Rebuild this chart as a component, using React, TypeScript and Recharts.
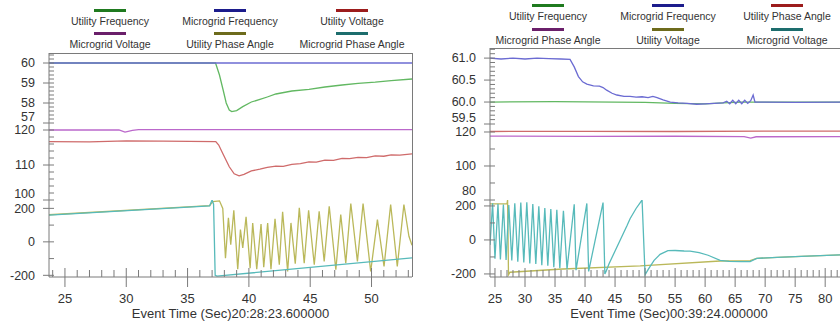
import { LineChart, Line, XAxis, YAxis } from 'recharts'

type Row = [number, number]
const toPts = (rows: Row[]) => rows.map(([t, v]) => ({ t, v }))

const AXIS = '#7a7a7a'
const TEXT = '#333'
const FONT = '"Liberation Sans", Arial, sans-serif'

// plot line colours (light) and legend swatch colours (dark)
const LINE = {
  green: '#62b862',
  blue: '#6b6bd2',
  red: '#cf6b6b',
  purple: '#bb68cb',
  olive: '#bab85a',
  teal: '#57baba',
}
const SWATCH = {
  green: '#1f7a1f',
  blue: '#1c1c8c',
  red: '#9c1c1c',
  purple: '#6a1f6a',
  olive: '#6d6b1c',
  teal: '#1d6d6d',
}

// ---------- left event: 20:28:23.6 ----------
const leftTimeDomain = [23.7, 53.3]
const leftTimeTicks = [24, 25, 26, 27, 28, 29, 30, 31, 32, 33, 34, 35, 36, 37, 38, 39, 40, 41, 42, 43, 44, 45, 46, 47, 48, 49, 50, 51, 52, 53]
const leftTitle = 'Event Time (Sec)20:28:23.600000'

const leftFreqDomain = [57, 60.5]
const leftFreqTicks = [57, 57.2, 57.4, 57.6, 57.8, 58, 58.2, 58.4, 58.6, 58.8, 59, 59.2, 59.4, 59.6, 59.8, 60, 60.2, 60.4]
const leftFreqLabels = [57, 58, 59, 60]

const leftVoltDomain = [100, 122]
const leftVoltTicks = [100, 102, 104, 106, 108, 110, 112, 114, 116, 118, 120]
const leftVoltLabels = [100, 110, 120]

const leftAngleDomain = [-210, 250]
const leftAngleTicks = [-200, -100, 0, 100, 200]
const leftAngleLabels = [-200, 0, 200]

const leftMicrogridFrequency: Row[] = [[23.7, 60], [53.3, 60]]
const leftUtilityFrequency: Row[] = [
  [23.7, 60], [37.28, 60], [37.6, 59.4], [37.9, 58.65], [38.15, 58.0], [38.4, 57.65], [38.6, 57.57],
  [39.0, 57.62], [39.5, 57.82], [40.2, 58.05], [40.9, 58.18], [41.5, 58.3], [42.2, 58.45], [43.5, 58.6],
  [44.9, 58.68], [46.2, 58.8], [47.6, 58.9], [48.9, 58.98], [50.3, 59.04], [51.6, 59.12], [53.3, 59.2],
]
const leftUtilityVoltage: Row[] = [
  [23.7, 116.7], [27, 116.6], [30, 116.9], [33, 116.8], [37.3, 116.7], [37.54, 115.7], [37.87, 113.3],
  [38.4, 109.5], [38.8, 107.5], [39.2, 106.9], [39.6, 107.3], [40.2, 108.3], [40.9, 108.8], [41.5, 109.3],
  [42.2, 109.7], [42.8, 109.6], [43.5, 110.2], [44.2, 110.4], [44.9, 110.9], [45.5, 110.8], [46.2, 111.4],
  [46.9, 111.3], [47.6, 111.9], [48.2, 111.8], [48.9, 112.2], [49.6, 112.1], [50.3, 112.6], [51.0, 112.5],
  [51.6, 112.9], [52.3, 112.8], [53.3, 113.2],
]
const leftMicrogridVoltage: Row[] = [
  [23.7, 120.0], [29.4, 120.0], [29.9, 119.4], [30.5, 119.9], [31, 120.1], [53.3, 120.1],
]
const leftUtilityPhaseAngle: Row[] = [
  [23.7, 162], [36.8, 216], [37.06, 240], [37.6, 245], [37.87, 200], [38.09, -98], [38.33, 143], [38.52, -17],
  [38.77, 189], [39.09, -163], [39.31, 73], [39.5, -37], [39.77, 149], [40.1, -157], [40.31, 113], [40.64, -163],
  [40.99, 107], [41.21, -151], [41.53, 113], [41.8, -163], [42.13, 137], [42.48, -137], [42.75, 179], [43.16, -177],
  [43.43, 113], [43.78, -130], [44.11, 203], [44.51, -127], [44.87, 189], [45.33, -137], [45.73, 183], [46.14, -117],
  [46.55, 213], [47.09, -167], [47.49, 163], [47.9, -127], [48.31, 229], [48.85, -117], [49.31, 229], [49.93, -177],
  [50.48, 133], [51.02, -147], [51.56, 223], [52.1, -147], [52.64, 223], [53.05, 33], [53.3, -20],
]
const leftMicrogridPhaseAngle: Row[] = [
  [23.7, 160], [36.8, 215], [37.0, 250], [37.12, 225], [37.25, -200], [37.4, -205], [53.3, -96],
]

// ---------- right event: 00:39:24.0 ----------
const rightTimeDomain = [24.17, 83.8]
const rightTimeTicks = [25, 26, 27, 28, 29, 30, 31, 32, 33, 34, 35, 36, 37, 38, 39, 40, 41, 42, 43, 44, 45, 46, 47, 48, 49, 50, 51, 52, 53, 54, 55, 56, 57, 58, 59, 60, 61, 62, 63, 64, 65, 66, 67, 68, 69, 70, 71, 72, 73, 74, 75, 76, 77, 78, 79, 80, 81, 82, 83]
const rightTitle = 'Event Time (Sec)00:39:24.000000'

const rightFreqDomain = [59.5, 61.23]
const rightFreqTicks = [59.5, 59.6, 59.7, 59.8, 59.9, 60.0, 60.1, 60.2, 60.3, 60.4, 60.5, 60.6, 60.7, 60.8, 60.9, 61.0, 61.1, 61.2]
const rightFreqLabels = [59.5, 60.0, 60.5, 61.0]

const rightVoltDomain = [80, 124.7]
const rightVoltTicks = [80, 90, 100, 110, 120]
const rightVoltLabels = [80, 100, 120]

const rightAngleDomain = [-218, 235]
const rightAngleTicks = [-200, -100, 0, 100, 200]
const rightAngleLabels = [-200, 0, 200]

const rightUtilityFrequency: Row[] = [
  [24.17, 60.0], [35, 60.01], [45, 60.0], [50, 59.99], [55, 59.97], [60, 59.96], [63, 59.98], [66, 60.0], [70, 60.0], [83.8, 60.0],
]
const rightMicrogridFrequency: Row[] = [
  [24.17, 61.0], [26, 60.98], [28, 61.0], [30, 60.98], [32, 61.0], [34, 60.99], [36, 60.98], [37.5, 60.97],
  [38.2, 60.8], [38.9, 60.58], [39.6, 60.46], [40.3, 60.41], [41.4, 60.37], [42.4, 60.36], [43.0, 60.33],
  [43.6, 60.27], [44.5, 60.2], [45.3, 60.16], [46.5, 60.13], [47.5, 60.13], [48.5, 60.11], [49.5, 60.12],
  [50.5, 60.1], [51.3, 60.13], [52.0, 60.1], [53, 60.05], [54.2, 60.0], [55.5, 59.98], [57, 59.97], [58.6, 59.95],
  [60, 59.96], [61.5, 59.97], [63.0, 59.98], [63.6, 60.02], [64.1, 59.96], [64.6, 60.04], [65.1, 59.96],
  [65.6, 60.04], [66.1, 59.96], [66.6, 60.04], [67.1, 59.97], [67.6, 60.03], [68.0, 60.16], [68.3, 60.0],
  [70, 60.0], [75, 59.99], [83.8, 60.0],
]
const rightUtilityPhaseAngle: Row[] = [[24.17, 120.3], [40, 120.4], [55, 120.3], [70, 120.5], [83.8, 120.5]]
const rightMicrogridPhaseAngle: Row[] = [
  [24.17, 117.6], [40, 117.4], [55, 117.5], [66.5, 117.3], [67.6, 116.4], [68.5, 117.2], [83.8, 117.3],
]
const rightUtilityVoltage: Row[] = [
  [24.17, 212], [27.0, 212], [27.1, 235], [27.25, -205], [27.5, -190], [36.3, -171], [49.2, -153],
  [62.5, -124], [67.5, -122], [68.6, -108], [72, -103], [76, -97], [83.8, -86],
]
const rightMicrogridVoltage: Row[] = [
  [24.17, -30], [24.6, 215], [25.0, -110], [25.5, 212], [25.9, -115], [26.4, 208], [26.85, -118], [27.3, 205],
  [27.8, -120], [28.3, 215], [28.8, -128], [29.3, 220], [29.8, -132], [30.3, 222], [30.8, -138], [31.3, 212],
  [31.8, -142], [32.3, 198], [32.8, -148], [33.3, 188], [33.8, -152], [34.3, 182], [34.8, -160], [35.3, 178],
  [35.8, -166], [36.4, 172], [37.0, -172], [38.2, 210], [38.5, -178], [40.3, 215], [40.6, -185], [43.0, 220],
  [43.3, -200], [43.5, -185], [44, -140], [45, -65], [46, 10], [47, 85], [47.5, 125], [48.5, 185], [49.5, 235],
  [50.0, -205], [50.5, -175], [51.5, -120], [52.5, -85], [53.8, -63], [55, -62], [56.5, -65], [57.5, -66],
  [59, -75], [60.5, -90], [62.5, -120], [64, -126], [66, -128], [67.5, -127], [68.6, -108], [72, -103],
  [76, -97], [83.8, -86],
]

const leftLegend = [
  { name: 'Utility Frequency', color: SWATCH.green },
  { name: 'Microgrid Frequency', color: SWATCH.blue },
  { name: 'Utility Voltage', color: SWATCH.red },
  { name: 'Microgrid Voltage', color: SWATCH.purple },
  { name: 'Utility Phase Angle', color: SWATCH.olive },
  { name: 'Microgrid Phase Angle', color: SWATCH.teal },
]
const rightLegend = [
  { name: 'Utility Frequency', color: SWATCH.green },
  { name: 'Microgrid Frequency', color: SWATCH.blue },
  { name: 'Utility Phase Angle', color: SWATCH.red },
  { name: 'Microgrid Phase Angle', color: SWATCH.purple },
  { name: 'Utility Voltage', color: SWATCH.olive },
  { name: 'Microgrid Voltage', color: SWATCH.teal },
]

function YTick(props: any) {
  const { x, y, payload, labels, lifted, liftBy, digits } = props
  const v = payload.value
  const major = labels.includes(v)
  return (
    <g>
      <line x1={major ? x - 6 : x} x2={x + 5} y1={y} y2={y} stroke={AXIS} />
      {major && (
        <text x={x - 14} y={y - (v === lifted ? liftBy : 0)} dy="0.35em" textAnchor="end"
          fontSize={12.5} fontFamily={FONT} fill={TEXT}>
          {v.toFixed(digits)}
        </text>
      )}
    </g>
  )
}

function XTick(props: any) {
  const { x, y, payload } = props
  const major = payload.value % 5 === 0
  return (
    <g>
      <line x1={x} x2={x} y1={y - (major ? 9 : 7)} y2={major ? y + 10 : y} stroke={AXIS} />
      {major && (
        <text x={x} y={y + 26} textAnchor="middle" fontSize={13} fontFamily={FONT} fill={TEXT}>
          {payload.value}
        </text>
      )}
    </g>
  )
}

type Series = { data: Row[]; color: string }
type BandProps = {
  left: number
  top: number
  width: number
  height: number
  right: number
  yWidth: number
  xDomain: number[]
  yDomain: number[]
  yTicks: number[]
  yLabels: number[]
  lifted?: number
  liftBy?: number
  digits: number
  series: Series[]
  xTicks?: number[]
  title?: string
}

function Band(p: BandProps) {
  const showX = !!p.title
  return (
    <div style={{ position: 'absolute', left: p.left, top: p.top }}>
      <LineChart width={p.width} height={p.height}
        margin={{ top: 10, right: p.right, bottom: showX ? 0 : 10, left: 0 }}>
        <XAxis type="number" dataKey="t" domain={p.xDomain} allowDataOverflow hide={!showX}
          ticks={p.xTicks} interval={0} height={46} tickLine={false} tickSize={0} tickMargin={0}
          axisLine={{ stroke: AXIS }}
          tick={(tp: any) => <XTick {...tp} />}
          label={showX ? { value: p.title, position: 'insideBottom', offset: 5, fill: TEXT, fontSize: 13, fontFamily: FONT } : undefined}
        />
        <YAxis type="number" domain={p.yDomain} allowDataOverflow ticks={p.yTicks} interval={0}
          width={p.yWidth} tickLine={false} tickSize={0} tickMargin={0} axisLine={{ stroke: AXIS }}
          tick={(tp: any) => <YTick {...tp} labels={p.yLabels} lifted={p.lifted} liftBy={p.liftBy ?? 6} digits={p.digits} />}
        />
        {p.series.map((s, i) => (
          <Line key={i} data={toPts(s.data)} dataKey="v" type="linear" stroke={s.color}
            strokeWidth={1.3} dot={false} activeDot={false} isAnimationActive={false} />
        ))}
      </LineChart>
    </div>
  )
}

function LegendBlock({ items, centers, rowsY }: { items: { name: string; color: string }[]; centers: number[]; rowsY: number[] }) {
  return (
    <>
      {items.map((it, i) => {
        const cx = centers[i % 3]
        const y = rowsY[Math.floor(i / 3)]
        return (
          <div key={it.name} style={{ position: 'absolute', left: cx - 70, top: y, width: 140, textAlign: 'center' }}>
            <div style={{ width: 32, height: 3, background: it.color, margin: '0 auto' }} />
            <div style={{ fontSize: 10.5, fontFamily: FONT, color: TEXT, marginTop: 3, lineHeight: '13px' }}>{it.name}</div>
          </div>
        )
      })}
    </>
  )
}

export default function App() {
  return (
    <div style={{ position: 'absolute', left: 0, top: 0, width: 840, height: 324, overflow: 'hidden', background: '#fff' }}>
      <LegendBlock items={leftLegend} centers={[110, 230, 352]} rowsY={[9, 32]} />
      <LegendBlock items={rightLegend} centers={[548, 668, 787]} rowsY={[4, 28]} />

      {/* left event */}
      <Band left={0} top={43} width={420} height={90} right={8} yWidth={49}
        xDomain={leftTimeDomain} yDomain={leftFreqDomain} yTicks={leftFreqTicks} yLabels={leftFreqLabels}
        lifted={57} digits={0}
        series={[{ data: leftUtilityFrequency, color: LINE.green }, { data: leftMicrogridFrequency, color: LINE.blue }]} />
      <Band left={0} top={113} width={420} height={97} right={8} yWidth={49}
        xDomain={leftTimeDomain} yDomain={leftVoltDomain} yTicks={leftVoltTicks} yLabels={leftVoltLabels}
        lifted={100} digits={0}
        series={[{ data: leftMicrogridVoltage, color: LINE.purple }, { data: leftUtilityVoltage, color: LINE.red }]} />
      <Band left={0} top={190} width={420} height={133} right={8} yWidth={49}
        xDomain={leftTimeDomain} yDomain={leftAngleDomain} yTicks={leftAngleTicks} yLabels={leftAngleLabels}
        digits={0} xTicks={leftTimeTicks} title={leftTitle}
        series={[{ data: leftUtilityPhaseAngle, color: LINE.olive }, { data: leftMicrogridPhaseAngle, color: LINE.teal }]} />
      <div style={{ position: 'absolute', left: 49, top: 53, width: 364, height: 224, boxSizing: 'border-box',
        borderTop: `1px solid ${AXIS}`, borderRight: `1px solid ${AXIS}` }} />

      {/* right event */}
      <Band left={430} top={38} width={418} height={96} right={0} yWidth={60}
        xDomain={rightTimeDomain} yDomain={rightFreqDomain} yTicks={rightFreqTicks} yLabels={rightFreqLabels}
        lifted={59.5} digits={1}
        series={[{ data: rightUtilityFrequency, color: LINE.green }, { data: rightMicrogridFrequency, color: LINE.blue }]} />
      <Band left={430} top={114} width={418} height={96} right={0} yWidth={60}
        xDomain={rightTimeDomain} yDomain={rightVoltDomain} yTicks={rightVoltTicks} yLabels={rightVoltLabels}
        lifted={80} liftBy={9} digits={0}
        series={[{ data: rightUtilityPhaseAngle, color: LINE.red }, { data: rightMicrogridPhaseAngle, color: LINE.purple }]} />
      <Band left={430} top={190} width={418} height={133} right={0} yWidth={60}
        xDomain={rightTimeDomain} yDomain={rightAngleDomain} yTicks={rightAngleTicks} yLabels={rightAngleLabels}
        digits={0} xTicks={rightTimeTicks} title={rightTitle}
        series={[{ data: rightUtilityVoltage, color: LINE.olive }, { data: rightMicrogridVoltage, color: LINE.teal }]} />
      <div style={{ position: 'absolute', left: 490, top: 48, width: 360, height: 1, background: AXIS }} />
    </div>
  )
}
